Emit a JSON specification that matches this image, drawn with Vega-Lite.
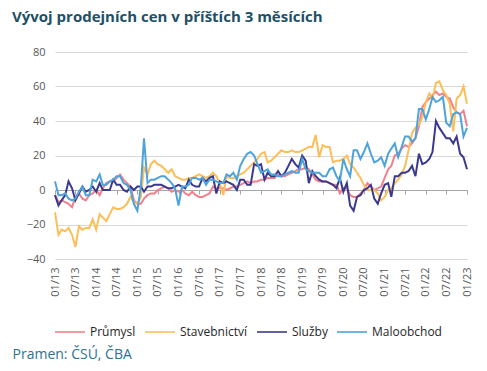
{
"$schema": "https://vega.github.io/schema/vega-lite/v6.json",
"width": 412, "height": 207,
"autosize": {"type": "none"},
"padding": {"left": 55, "top": 52, "right": 20, "bottom": 112},
"background": "white",
"config": {"view": {"stroke": null}, "font": "Open Sans",
  "axisY": {"grid": true, "gridColor": "#D9D9D9", "domain": false, "ticks": false, "labelFontSize": 11, "labelColor": "#595959", "labelPadding": 10, "values": [-40,-20,0,20,40,60,80], "title": null}},
"title": {"text": "Vývoj prodejních cen v příštích 3 měsících", "anchor": "start", "frame": "group", "dx": -43, "offset": 21, "fontSize": 15, "fontWeight": "bold", "color": "#1E5066", "font": "Open Sans"},
"data": {"values": [
{"d":"2013-01","p":-3,"s":-13,"l":-3,"m":5},
{"d":"2013-02","p":-7,"s":-26,"l":-9,"m":-3},
{"d":"2013-03","p":-6,"s":-23,"l":-6,"m":-3},
{"d":"2013-04","p":-7,"s":-24,"l":-3,"m":-2},
{"d":"2013-05","p":-8,"s":-22,"l":5,"m":-5},
{"d":"2013-06","p":-10,"s":-26,"l":1,"m":-6},
{"d":"2013-07","p":-4,"s":-33,"l":-6,"m":-5},
{"d":"2013-08","p":-2,"s":-21,"l":-2,"m":-1},
{"d":"2013-09","p":-5,"s":-23,"l":2,"m":2},
{"d":"2013-10","p":-6,"s":-22,"l":-1,"m":-3},
{"d":"2013-11","p":-3,"s":-22,"l":0,"m":-3},
{"d":"2013-12","p":-2,"s":-17,"l":2,"m":6},
{"d":"2014-01","p":0,"s":-23,"l":-1,"m":5},
{"d":"2014-02","p":-3,"s":-14,"l":4,"m":9},
{"d":"2014-03","p":1,"s":-16,"l":0,"m":3},
{"d":"2014-04","p":4,"s":-18,"l":0,"m":3},
{"d":"2014-05","p":5,"s":-14,"l":0,"m":5},
{"d":"2014-06","p":5,"s":-10,"l":6,"m":6},
{"d":"2014-07","p":7,"s":-11,"l":3,"m":8},
{"d":"2014-08","p":9,"s":-11,"l":3,"m":8},
{"d":"2014-09","p":6,"s":-10,"l":0,"m":4},
{"d":"2014-10","p":4,"s":-8,"l":-1,"m":3},
{"d":"2014-11","p":2,"s":-4,"l":2,"m":0},
{"d":"2014-12","p":-6,"s":-7,"l":0,"m":-8},
{"d":"2015-01","p":-8,"s":-8,"l":2,"m":-12},
{"d":"2015-02","p":-8,"s":-4,"l":2,"m":2},
{"d":"2015-03","p":-5,"s":13,"l":-1,"m":30},
{"d":"2015-04","p":-3,"s":9,"l":2,"m":4},
{"d":"2015-05","p":-2,"s":15,"l":2,"m":6},
{"d":"2015-06","p":-2,"s":17,"l":3,"m":6},
{"d":"2015-07","p":0,"s":15,"l":3,"m":7},
{"d":"2015-08","p":1,"s":14,"l":3,"m":8},
{"d":"2015-09","p":2,"s":12,"l":2,"m":8},
{"d":"2015-10","p":1,"s":10,"l":1,"m":6},
{"d":"2015-11","p":-1,"s":12,"l":1,"m":4},
{"d":"2015-12","p":0,"s":8,"l":2,"m":1},
{"d":"2016-01","p":-1,"s":7,"l":3,"m":-9},
{"d":"2016-02","p":0,"s":6,"l":2,"m":2},
{"d":"2016-03","p":-2,"s":6,"l":1,"m":2},
{"d":"2016-04","p":-3,"s":7,"l":6,"m":3},
{"d":"2016-05","p":-1,"s":7,"l":3,"m":7},
{"d":"2016-06","p":-3,"s":8,"l":2,"m":7},
{"d":"2016-07","p":-4,"s":9,"l":2,"m":6},
{"d":"2016-08","p":-4,"s":8,"l":7,"m":7},
{"d":"2016-09","p":-3,"s":7,"l":5,"m":3},
{"d":"2016-10","p":-2,"s":8,"l":7,"m":6},
{"d":"2016-11","p":2,"s":10,"l":8,"m":6},
{"d":"2016-12","p":1,"s":8,"l":-2,"m":5},
{"d":"2017-01","p":1,"s":4,"l":5,"m":4},
{"d":"2017-02","p":1,"s":-3,"l":4,"m":4},
{"d":"2017-03","p":0,"s":8,"l":5,"m":9},
{"d":"2017-04","p":1,"s":7,"l":4,"m":8},
{"d":"2017-05","p":2,"s":7,"l":3,"m":10},
{"d":"2017-06","p":2,"s":8,"l":0,"m":6},
{"d":"2017-07","p":3,"s":9,"l":6,"m":14},
{"d":"2017-08","p":4,"s":10,"l":6,"m":18},
{"d":"2017-09","p":5,"s":12,"l":3,"m":21},
{"d":"2017-10","p":4,"s":14,"l":3,"m":22},
{"d":"2017-11","p":5,"s":16,"l":15,"m":20},
{"d":"2017-12","p":5,"s":18,"l":14,"m":15},
{"d":"2018-01","p":6,"s":21,"l":15,"m":10},
{"d":"2018-02","p":6,"s":22,"l":6,"m":11},
{"d":"2018-03","p":7,"s":16,"l":10,"m":12},
{"d":"2018-04","p":7,"s":17,"l":8,"m":9},
{"d":"2018-05","p":7,"s":19,"l":8,"m":9},
{"d":"2018-06","p":9,"s":21,"l":11,"m":8},
{"d":"2018-07","p":8,"s":23,"l":8,"m":8},
{"d":"2018-08","p":8,"s":22,"l":10,"m":9},
{"d":"2018-09","p":9,"s":22,"l":14,"m":10},
{"d":"2018-10","p":10,"s":23,"l":18,"m":11},
{"d":"2018-11","p":11,"s":22,"l":15,"m":10},
{"d":"2018-12","p":12,"s":22,"l":13,"m":10},
{"d":"2019-01","p":12,"s":23,"l":20,"m":18},
{"d":"2019-02","p":13,"s":24,"l":17,"m":12},
{"d":"2019-03","p":12,"s":25,"l":4,"m":11},
{"d":"2019-04","p":9,"s":25,"l":11,"m":10},
{"d":"2019-05","p":6,"s":32,"l":8,"m":10},
{"d":"2019-06","p":5,"s":19,"l":6,"m":10},
{"d":"2019-07","p":5,"s":26,"l":5,"m":8},
{"d":"2019-08","p":5,"s":25,"l":5,"m":8},
{"d":"2019-09","p":4,"s":25,"l":4,"m":12},
{"d":"2019-10","p":3,"s":16,"l":3,"m":13},
{"d":"2019-11","p":3,"s":17,"l":1,"m":8},
{"d":"2019-12","p":-2,"s":17,"l":7,"m":5},
{"d":"2020-01","p":1,"s":18,"l":-1,"m":18},
{"d":"2020-02","p":1,"s":20,"l":4,"m":12},
{"d":"2020-03","p":-3,"s":15,"l":-9,"m":8},
{"d":"2020-04","p":-4,"s":13,"l":-12,"m":23},
{"d":"2020-05","p":-4,"s":10,"l":-4,"m":23},
{"d":"2020-06","p":-2,"s":7,"l":-3,"m":18},
{"d":"2020-07","p":0,"s":3,"l":0,"m":22},
{"d":"2020-08","p":4,"s":0,"l":1,"m":27},
{"d":"2020-09","p":2,"s":0,"l":3,"m":21},
{"d":"2020-10","p":0,"s":0,"l":-5,"m":16},
{"d":"2020-11","p":1,"s":-2,"l":-8,"m":17},
{"d":"2020-12","p":2,"s":-6,"l":-2,"m":19},
{"d":"2021-01","p":7,"s":-4,"l":3,"m":14},
{"d":"2021-02","p":12,"s":0,"l":4,"m":21},
{"d":"2021-03","p":14,"s":1,"l":-4,"m":24},
{"d":"2021-04","p":20,"s":4,"l":8,"m":27},
{"d":"2021-05","p":21,"s":6,"l":8,"m":19},
{"d":"2021-06","p":24,"s":9,"l":10,"m":25},
{"d":"2021-07","p":26,"s":14,"l":10,"m":31},
{"d":"2021-08","p":25,"s":23,"l":11,"m":31},
{"d":"2021-09","p":27,"s":33,"l":14,"m":28},
{"d":"2021-10","p":30,"s":36,"l":8,"m":30},
{"d":"2021-11","p":37,"s":38,"l":21,"m":47},
{"d":"2021-12","p":48,"s":42,"l":15,"m":47},
{"d":"2022-01","p":51,"s":51,"l":16,"m":41},
{"d":"2022-02","p":53,"s":56,"l":18,"m":47},
{"d":"2022-03","p":55,"s":53,"l":22,"m":54},
{"d":"2022-04","p":57,"s":62,"l":40,"m":51},
{"d":"2022-05","p":55,"s":63,"l":36,"m":52},
{"d":"2022-06","p":56,"s":58,"l":33,"m":54},
{"d":"2022-07","p":54,"s":55,"l":30,"m":39},
{"d":"2022-08","p":53,"s":50,"l":30,"m":37},
{"d":"2022-09","p":48,"s":34,"l":27,"m":44},
{"d":"2022-10","p":45,"s":53,"l":31,"m":45},
{"d":"2022-11","p":44,"s":55,"l":21,"m":44},
{"d":"2022-12","p":46,"s":60,"l":19,"m":31},
{"d":"2023-01","p":37,"s":50,"l":12,"m":36}
]},
"layer": [
 {
  "encoding": {"x": {"field": "d", "type": "temporal", "title": "Pramen: ČSÚ, ČBA",
     "scale": {"type": "utc", "domain": [{"year": 2013, "month": 1, "date": 1, "utc": true}, {"year": 2023, "month": 1, "date": 1, "utc": true}], "nice": false},
     "axis": {"orient": "bottom", "tickCount": {"interval": "month", "step": 6}, "format": "%m/%y", "labelAngle": 270, "labelFontSize": 11, "labelColor": "#595959", "labelPadding": 8, "labelFlush": false, "labelOverlap": false, "domain": false, "ticks": false, "grid": false,
       "titleFontSize": 14, "titleFontWeight": "normal", "titleColor": "#2B7391", "titleAnchor": "start", "titleAlign": "left", "titleX": -43, "titleY": 99, "titleBaseline": "alphabetic"}}},
  "layer": [
   {"mark": {"type": "line", "strokeWidth": 2},
    "encoding": {"y": {"field": "p", "type": "quantitative", "title": null, "scale": {"domain": [-40, 80], "nice": false}},
      "color": {"datum": "Průmysl", "type": "nominal", "scale": {"domain": ["Průmysl", "Stavebnictví", "Služby", "Maloobchod"], "range": ["#F2808C", "#FDBE58", "#3B398D", "#4EA3DA"]},
        "legend": {"title": null, "orient": "none", "legendX": -1, "legendY": 264, "direction": "horizontal", "symbolType": "stroke", "symbolSize": 900, "symbolStrokeWidth": 1.6, "labelFontSize": 12, "labelColor": "#262626", "labelOffset": 4, "columnPadding": 5, "labelFont": "Open Sans"}}}},
   {"mark": {"type": "line", "strokeWidth": 2},
    "encoding": {"y": {"field": "s", "type": "quantitative", "title": null, "scale": {"domain": [-40, 80], "nice": false}}, "color": {"datum": "Stavebnictví", "type": "nominal"}}},
   {"mark": {"type": "line", "strokeWidth": 2},
    "encoding": {"y": {"field": "l", "type": "quantitative", "title": null, "scale": {"domain": [-40, 80], "nice": false}}, "color": {"datum": "Služby", "type": "nominal"}}},
   {"mark": {"type": "line", "strokeWidth": 2},
    "encoding": {"y": {"field": "m", "type": "quantitative", "title": null, "scale": {"domain": [-40, 80], "nice": false}}, "color": {"datum": "Maloobchod", "type": "nominal"}}}
  ]
 },
 {
  "mark": {"type": "line", "opacity": 0},
  "encoding": {
    "x": {"field": "d", "type": "temporal", "title": null,
      "axis": {"orient": "bottom", "offset": -69, "tickCount": {"interval": "month", "step": 6}, "labels": false, "domain": true, "domainColor": "#A6A6A6", "domainWidth": 1, "ticks": true, "tickColor": "#A6A6A6", "tickSize": 4, "grid": false, "title": null}},
    "y": {"field": "p", "type": "quantitative", "title": null, "scale": {"domain": [-40, 80], "nice": false}}
  }
 }
],
"resolve": {"axis": {"x": "independent"}}
}
